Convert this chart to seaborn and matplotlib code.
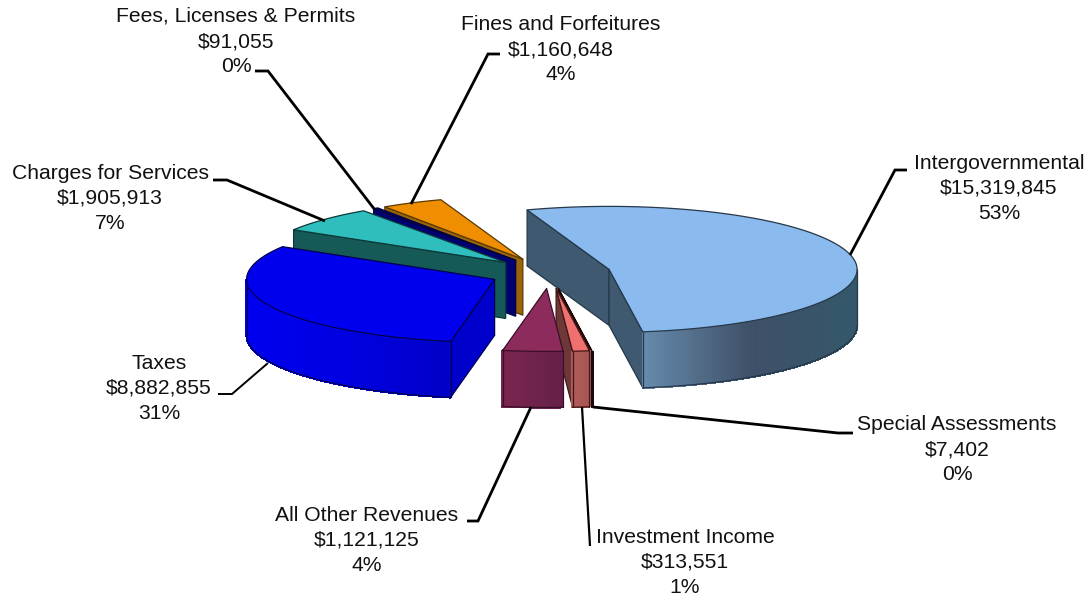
#Exploded 3D pie of revenue sources
import numpy as np
import seaborn as sns
import matplotlib.pyplot as plt
from matplotlib.patches import Polygon

# data, clockwise from the first slice
categorias = ['Intergovernmental', 'Special Assessments', 'Investment Income',
              'All Other Revenues', 'Taxes', 'Charges for Services',
              'Fees, Licenses & Permits', 'Fines and Forfeitures']
valores = [15319845, 7402, 313551, 1121125, 8882855, 1905913, 91055, 1160648]

# styles
topo = ['#8BBBEE', '#F07878', '#F07070', '#8C2B5C', '#0000EE', '#2FBDBD', '#000080', '#EE8E00']
parede = ['#3F5A70', '#3A1010', '#6E3838', '#6B2048', '#0000CC', '#165A58', '#000070', '#9A6408']
degrade = [['#668AAC', '#3F5068', '#33586A'], ['#111111', '#111111'],
           ['#B05C58', '#A85450'], ['#7A2550', '#642048'],
           ['#0000F0', '#0000E0', '#0000C8'], ['#165A58', '#165A58'],
           ['#000070', '#000070'], ['#9A6408', '#9A6408']]
linha = ['#26384A', '#200808', '#401818', '#3A1028', '#000050', '#0C3A38', '#000040', '#5A3A00']

# label anchor and leader lines, in pixels
pos_texto = [(999, 154), (957, 415), (685, 528), (367, 506), (159, 354), (110, 164), (236, 7), (561, 15)]
guias = [[(907, 170), (895, 170), (850, 255)],
         [(853, 433), (838, 433), (593, 407)],
         [(590, 546), (582, 407)],
         [(467, 521), (478, 521), (531, 407)],
         [(218, 394), (232, 394), (268, 363)],
         [(213, 180), (227, 180), (325, 221)],
         [(255, 71), (268, 71), (375, 210)],
         [(500, 54), (488, 54), (411, 204)]]
larg_guia = [2, 2, 1.6, 2, 1.4, 2, 2, 2]

centro = (550, 273)
raio_x, raio_y = 248, 63
altura = 56
explode = 0.245
inicio = 109.3

sns.set_theme(style='white')
plt.rcParams['font.family'] = ['Liberation Sans', 'DejaVu Sans']

fig, ax = plt.subplots(figsize=(10.91, 5.96), dpi=100)
fig.subplots_adjust(0, 0, 1, 1)
ax.set_xlim(0, 1091)
ax.set_ylim(596, 0)
ax.axis('off')

total = sum(valores)
fatias = np.array(valores) / total * 360
fim = inicio - np.cumsum(fatias)
comeco = fim + fatias


def ponto(c, t):
    r = np.radians(t)
    return np.column_stack([c[0] + raio_x * np.cos(r), c[1] - raio_y * np.sin(r)])


def desce(p):
    return p + np.array([0, altura])


def desenha_fatia(i):
    t0, t1 = comeco[i], fim[i]
    meio = np.radians((t0 + t1) / 2)
    c = np.array([centro[0] + explode * raio_x * np.cos(meio),
                  centro[1] - explode * raio_y * np.sin(meio)])
    ts = np.linspace(t0, t1, 200)
    arco = ponto(c, ts)

    # straight walls that face the viewer
    for t, visivel in [(t0, np.cos(np.radians(t0)) < 0), (t1, np.cos(np.radians(t1)) > 0)]:
        if visivel:
            p = ponto(c, np.array([t]))[0]
            quad = np.array([c, p, desce(p), desce(c)])
            ax.add_patch(Polygon(quad, fc=parede[i], ec=linha[i], lw=0.9, zorder=i_z[i]))

    # outer wall, only the front half, with the colour running along x
    frente = ts[np.sin(np.radians(ts)) < 0]
    if len(frente) > 1:
        pal = sns.blend_palette(degrade[i], 100)
        pts = ponto(c, frente)
        x_min, x_max = pts[:, 0].min(), pts[:, 0].max()
        for a, b in zip(pts[:-1], pts[1:]):
            f = (a[0] - x_min) / max(x_max - x_min, 1)
            cor = pal[min(int(f * 99), 99)]
            ax.add_patch(Polygon([a, b, desce(b), desce(a)], fc=cor, ec=cor, lw=1,
                                 antialiased=False, zorder=i_z[i]))
        ax.plot(pts[:, 0], pts[:, 1] + altura, color=linha[i], lw=0.9, zorder=i_z[i])
        ax.plot([pts[0, 0]] * 2, [pts[0, 1], pts[0, 1] + altura], color=linha[i], lw=0.9, zorder=i_z[i])
        ax.plot([pts[-1, 0]] * 2, [pts[-1, 1], pts[-1, 1] + altura], color=linha[i], lw=0.9, zorder=i_z[i])

    # top face
    ax.add_patch(Polygon(np.vstack([c, arco]), fc=topo[i], ec=linha[i], lw=0.9,
                         joinstyle='round', zorder=i_z[i] + 0.5))


# back slices first
i_z = {0: 1, 7: 2, 6: 3, 5: 4, 4: 5, 1: 6, 2: 7, 3: 8}
for i in [0, 7, 6, 5, 4, 1, 2, 3]:
    desenha_fatia(i)

for g, lw in zip(guias, larg_guia):
    xs, ys = zip(*g)
    ax.plot(xs, ys, color='black', lw=lw, solid_joinstyle='miter', solid_capstyle='butt', zorder=20)

for nome, v, p in zip(categorias, valores, pos_texto):
    ax.text(p[0], p[1], f'{nome}\n${v:,}\n{v / total:.0%}', ha='center', va='top',
            fontsize=15.2, color='#111111', linespacing=1.4, zorder=21)

fig.savefig('out.png', dpi=100)
